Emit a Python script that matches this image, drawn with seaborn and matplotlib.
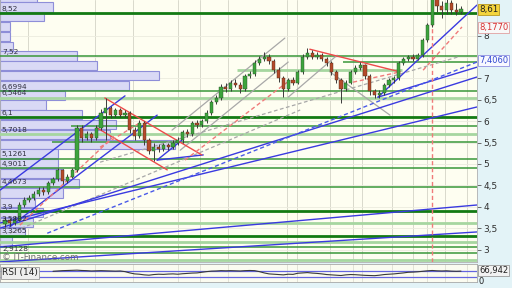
import matplotlib
matplotlib.use("Agg")
import matplotlib.pyplot as plt
import matplotlib.transforms as mtrans
import numpy as np
import pandas as pd
import seaborn as sns

sns.set_theme(style="white")
plt.rcParams["font.family"] = ["DejaVu Sans"]

# ---------------- data ----------------
opens = [3.60, 3.70, 3.62, 3.70, 4.05, 4.15, 4.20, 4.30, 4.40, 4.35, 4.55, 4.65, 4.85, 4.60, 4.70, 4.85,
         5.85, 5.60, 5.70, 5.60, 5.85, 6.20, 6.30, 6.15, 6.25, 6.15, 6.20, 5.80, 5.65, 5.95, 5.55, 5.30,
         5.40, 5.35, 5.45, 5.40, 5.50, 5.55, 5.75, 5.70, 5.95, 5.90, 6.00, 6.20, 6.45, 6.55, 6.80, 6.75,
         6.90, 6.85, 6.75, 7.05, 7.10, 7.35, 7.45, 7.50, 7.40, 7.20, 7.00, 6.75, 6.95, 6.90, 7.15, 7.50,
         7.60, 7.50, 7.55, 7.45, 7.35, 7.15, 6.95, 6.75, 6.90, 7.15, 7.25, 7.30, 7.05, 6.70, 6.60, 6.65,
         6.85, 6.95, 7.00, 7.35, 7.45, 7.50, 7.45, 7.55, 7.90, 8.25, 8.85, 8.70, 8.60, 8.75, 8.60, 8.55]
closes = [3.70, 3.62, 3.70, 4.05, 4.15, 4.20, 4.30, 4.40, 4.35, 4.55, 4.65, 4.85, 4.60, 4.70, 4.85, 5.85,
          5.60, 5.70, 5.60, 5.85, 6.20, 6.30, 6.15, 6.25, 6.15, 6.20, 5.80, 5.65, 5.95, 5.55, 5.30, 5.40,
          5.35, 5.45, 5.40, 5.50, 5.55, 5.75, 5.70, 5.95, 5.90, 6.00, 6.20, 6.45, 6.55, 6.80, 6.75, 6.90,
          6.85, 6.75, 7.05, 7.10, 7.35, 7.45, 7.50, 7.40, 7.20, 7.00, 6.75, 6.95, 6.90, 7.15, 7.50, 7.60,
          7.50, 7.55, 7.45, 7.35, 7.15, 6.95, 6.75, 6.90, 7.15, 7.25, 7.30, 7.05, 6.70, 6.60, 6.65, 6.85,
          6.95, 7.00, 7.35, 7.45, 7.50, 7.45, 7.55, 7.90, 8.25, 8.85, 8.70, 8.60, 8.75, 8.60, 8.55, 8.62]
highs = [3.76, 3.74, 3.78, 4.10, 4.22, 4.28, 4.36, 4.45, 4.46, 4.60, 4.70, 4.90, 4.88, 4.76, 4.90, 5.92,
         5.90, 5.78, 5.75, 5.90, 6.28, 6.55, 6.35, 6.30, 6.30, 6.26, 6.24, 5.86, 6.02, 6.00, 5.60, 5.48,
         5.46, 5.50, 5.50, 5.55, 5.62, 5.80, 5.82, 6.00, 6.02, 6.05, 6.26, 6.50, 6.62, 6.86, 6.88, 6.95,
         6.98, 6.92, 7.10, 7.18, 7.42, 7.52, 7.62, 7.56, 7.45, 7.26, 7.05, 7.00, 7.02, 7.20, 7.56, 7.72,
         7.66, 7.62, 7.60, 7.50, 7.40, 7.20, 7.00, 6.96, 7.20, 7.30, 7.38, 7.34, 7.10, 6.76, 6.72, 6.90,
         7.00, 7.06, 7.40, 7.50, 7.55, 7.56, 7.60, 7.95, 8.30, 8.95, 9.00, 8.80, 8.85, 8.82, 8.75, 8.70]
lows = [3.52, 3.55, 3.58, 3.66, 4.00, 4.10, 4.15, 4.25, 4.28, 4.30, 4.50, 4.60, 4.52, 4.55, 4.66, 4.80,
        5.52, 5.55, 5.52, 5.56, 5.80, 5.56, 6.08, 6.10, 6.10, 6.10, 5.72, 5.55, 5.60, 5.45, 5.22, 5.07,
        5.28, 5.30, 5.33, 5.36, 5.45, 5.50, 5.64, 5.66, 5.85, 5.86, 5.95, 6.15, 6.40, 6.50, 6.68, 6.70,
        6.80, 6.66, 6.70, 7.00, 7.05, 7.30, 7.40, 7.34, 7.12, 6.92, 6.56, 6.70, 6.84, 6.86, 7.10, 7.45,
        7.44, 7.45, 7.40, 7.28, 7.08, 6.88, 6.42, 6.70, 6.86, 7.10, 7.20, 6.98, 6.62, 6.54, 6.55, 6.60,
        6.80, 6.90, 6.96, 7.30, 7.40, 7.40, 7.42, 7.50, 7.85, 8.20, 8.55, 8.40, 8.50, 8.50, 8.48, 8.50]

# volume-at-price profile (bin centre price, bar length in candle units)
vp_price = [8.897, 8.668, 8.439, 8.210, 7.981, 7.752, 7.523, 7.294, 7.065, 6.836, 6.607, 6.378, 6.149,
            5.920, 5.691, 5.462, 5.234, 5.005, 4.776, 4.547, 4.318, 4.089, 3.860, 3.631, 3.402, 3.173]
vp_len = [7.7, 11.0, 9.2, 2.1, 2.1, 2.7, 16.0, 20.2, 33.1, 26.9, 13.5, 9.6, 17.1,
          24.2, 22.9, 36.5, 12.1, 12.1, 13.1, 16.5, 13.1, 7.3, 9.0, 6.9, 5.2, 2.5]

# horizontal support / resistance levels
lvl_price = [8.52, 7.52, 7.38, 7.19, 6.6994, 6.5464, 6.1, 5.885, 5.7018, 5.51, 5.1261, 4.9011,
             4.4673, 3.9, 3.62, 3.3265, 3.175, 3.06, 2.9128, 2.75]
lvl_kind = ["thick", "norm", "norm", "light", "norm", "light", "thick", "norm", "light", "norm", "norm",
            "norm", "norm", "thick", "light", "thick", "light", "norm", "norm", "light"]
lvl_start = [-2, -2, 70.4, 48.3, -2, -2, -2, 13.8, -2, 9.8, -2, -2, -2, -2, -2, -2, -2, -2, -2, -2]
lvl_end = [99, 99, 99, 82.7, 99, 99, 99, 99, 99, 99, 99, 99, 99, 99, 99, 99, 99, 99, 99, 99]
lvl_labels = ["8,52", "7,52", "6,6994", "6,5464", "6,1", "5,7018", "5,1261", "4,9011", "4,4673",
              "3,9", "3,5882", "3,3265", "2,9128"]
lvl_label_price = [8.52, 7.52, 6.6994, 6.5464, 6.1, 5.7018, 5.1261, 4.9011, 4.4673, 3.9, 3.62, 3.3265, 2.9128]

# trend lines: (x0, p0, x1, p1) in candle index / price
blue_lines = [(-1.0, 4.39, 25.0, 6.59), (1.0, 3.53, 31.7, 6.14), (31.7, 5.09, 36.9, 5.56),
              (31.7, 5.09, 41.3, 5.21), (-1.0, 3.50, 98.3, 7.03), (-1.0, 3.06, 98.3, 4.04),
              (-1.0, 2.71, 98.3, 3.41), (-1.0, 3.62, 98.3, 6.33), (77.7, 6.56, 98.3, 8.71),
              (77.7, 6.56, 98.3, 7.26)]
blue_dash = [(8.8, 3.38, 98.3, 7.38)]
gray_lines = [(34.8, 5.79, 58.3, 7.94), (36.5, 5.32, 59.0, 7.38), (59.0, 6.56, 69.2, 7.54),
              (67.7, 7.15, 80.2, 6.14)]
gray_dash = [(1.0, 3.38, 61.5, 6.26), (19.8, 5.04, 94.4, 7.50)]
red_lines = [(20.8, 6.54, 41.0, 5.21), (19.2, 5.84, 33.8, 4.86), (63.5, 7.68, 82.3, 7.15)]
red_dash = [(3.1, 3.57, 22.9, 5.67), (37.5, 5.09, 59.4, 6.96), (72.5, 6.91, 82.3, 7.15),
            (87.1, 7.19, 95.2, 8.20), (19.8, 5.39, 28.1, 5.96)]
red_vline = 88.96

vgrid_x = [4.8, 18.75, 26.7, 36.0, 40.6, 46.5, 58.75, 60.8, 67.7, 72.5, 74.4, 80.6, 85.0, 87.9, 91.7, 96.25]

ytick_vals = [3, 3.5, 4, 4.5, 5, 5.5, 6, 6.5, 7, 8]
last_price = 8.61
red_marker = 8.177
blue_marker = 7.406

rsi_start = 10
rsi_vals = [68, 70, 72, 73, 74, 75, 73, 72, 70, 71, 72, 71, 70, 69, 70, 66,
            58, 52, 50, 46, 44,
            48, 50, 49, 51, 52, 50, 53, 55, 57, 58, 62, 66,
            69, 70, 72, 71, 72, 71, 70, 72, 73, 72, 66, 58, 52,
            50, 48, 46, 50, 49, 56,
            58, 60, 57, 55, 52, 48,
            46, 44, 42, 46, 48, 47, 45,
            43, 42, 41, 44, 48, 50,
            52, 55, 58, 62, 63, 65, 68, 71,
            73, 71, 70, 71, 69, 68, 69]

# ---------------- figure ----------------
W, H = 512, 288
fig = plt.figure(figsize=(W / 100, H / 100), dpi=100, facecolor="#e3f3f7")
XMIN, XMAX = -1.04, 98.33
YMIN, YMAX = 2.708, 8.83

ax = fig.add_axes([0, 26 / H, 477 / W, 262 / H])
ax.set_facecolor("#fefef1")
ax.set_xlim(XMIN, XMAX)
ax.set_ylim(YMIN, YMAX)

# grid
for gx in vgrid_x:
    ax.axvline(gx, color="#d9d9cc", lw=0.7, zorder=0)
for gy in np.arange(3.0, 8.9, 0.5):
    ax.axhline(gy, color="#ececdf", lw=0.6, zorder=0)

# volume profile bars
ax.barh(vp_price, vp_len, left=XMIN, height=0.215, color="#d9d9f5", edgecolor="#8e8ed8",
        linewidth=0.8, zorder=1)

# levels
lvl_style = {"thick": dict(color="#137a13", lw=2.0), "norm": dict(color="#3a973a", lw=1.1),
             "light": dict(color="#a6d6a0", lw=2.0)}
for p, k, s, e in zip(lvl_price, lvl_kind, lvl_start, lvl_end):
    ax.plot([s, e], [p, p], zorder=3, solid_capstyle="butt", **lvl_style[k])

for p, t in zip(lvl_label_price, lvl_labels):
    ax.text(XMIN + 0.4, p + 0.03, t, fontsize=5.3, color="#303040", va="bottom", ha="left", zorder=6)

# trend lines
def draw(lines, **kw):
    for x0, y0, x1, y1 in lines:
        ax.plot([x0, x1], [y0, y1], zorder=4, **kw)

draw(gray_lines, color="#a8a8a8", lw=0.9)
draw(gray_dash, color="#a8a8a8", lw=0.9, ls=(0, (3, 2)))
draw(blue_lines, color="#3a3ae0", lw=1.0)
draw(blue_dash, color="#4a5ae8", lw=1.0, ls=(0, (3, 2)))
draw(red_lines, color="#ee4a4a", lw=1.0)
draw(red_dash, color="#f07a7a", lw=1.0, ls=(0, (3, 2)))
ax.axvline(red_vline, color="#f07a7a", lw=1.0, ls=(0, (3, 2)), zorder=4)

# candles
df = pd.DataFrame({"o": opens, "c": closes, "h": highs, "l": lows})
df["i"] = np.arange(len(df))
up = df["c"] >= df["o"]
ax.vlines(df["i"], df["l"], df["h"], color="#3a3a3a", lw=0.7, zorder=5)
body_lo = np.minimum(df["o"], df["c"])
body_h = np.maximum(np.abs(df["c"] - df["o"]), 0.02)
ax.bar(df["i"][up], body_h[up], bottom=body_lo[up], width=0.65, color="#3ca43c",
       edgecolor="#2a4a2a", linewidth=0.3, zorder=5)
ax.bar(df["i"][~up], body_h[~up], bottom=body_lo[~up], width=0.65, color="#b54a2a",
       edgecolor="#4a2a1a", linewidth=0.3, zorder=5)

# axes styling
ax.yaxis.tick_right()
ax.set_yticks(ytick_vals)
ax.set_yticklabels([("%g" % v).replace(".", ",") for v in ytick_vals])
ax.tick_params(axis="y", labelsize=6.5, length=3, width=0.6, color="#555555", pad=1.5,
               labelcolor="#303030")
ax.set_xticks([])
for s in ax.spines.values():
    s.set_color("#b0b0b0")
    s.set_linewidth(0.6)
ax.spines["top"].set_visible(False)

tr = mtrans.blended_transform_factory(ax.transAxes, ax.transData)
ax.text(1.004, last_price, "8,61", transform=tr, fontsize=6.3, va="center", ha="left", color="#202020",
        bbox=dict(boxstyle="square,pad=0.15", fc="#f4d43c", ec="#b89a20", lw=0.6), zorder=10)
ax.text(1.004, red_marker, "8,1770", transform=tr, fontsize=6.0, va="center", ha="left", color="#d83030",
        bbox=dict(boxstyle="square,pad=0.12", fc="#f8f8f8", ec="#e0a0a0", lw=0.6), zorder=10)
ax.text(1.004, blue_marker, "7,4060", transform=tr, fontsize=6.0, va="center", ha="left", color="#3048d0",
        bbox=dict(boxstyle="square,pad=0.12", fc="#f8f8ff", ec="#9090e0", lw=0.6), zorder=10)
ax.text(0.004, 0.016, "© IT-Finance.com", transform=ax.transAxes, fontsize=6.3, color="#707070",
        va="center", ha="left", zorder=6)

# ---------------- RSI panel ----------------
rx = fig.add_axes([0, 6 / H, 477 / W, 18 / H])
rx.set_facecolor("#fbfbf0")
rx.set_xlim(XMIN, XMAX)
rx.set_ylim(2, 113)
for gx in vgrid_x:
    rx.axvline(gx, color="#deded2", lw=0.6, zorder=0)
rx.axhline(70, color="#6464e0", lw=0.9)
rx.axhline(30, color="#6464e0", lw=0.9)
rsi_df = pd.DataFrame({"i": np.arange(rsi_start, rsi_start + len(rsi_vals)), "rsi": rsi_vals})
sns.lineplot(data=rsi_df, x="i", y="rsi", ax=rx, color="#383838", lw=0.8)
rx.set_xlabel("")
rx.set_ylabel("")
rx.set_xticks([])
rx.set_yticks([])
for s in rx.spines.values():
    s.set_color("#a8a8a8")
    s.set_linewidth(0.6)
rx.text(0.004, 0.5, "RSI (14)", transform=rx.transAxes, fontsize=6.5, va="center", ha="left",
        color="#202020", bbox=dict(boxstyle="square,pad=0.15", fc="#eeeeee", ec="#9a9a9a", lw=0.6))
rx.text(1.004, 0.62, "66,942", transform=rx.transAxes, fontsize=6.0, va="center", ha="left",
        color="#202020", bbox=dict(boxstyle="square,pad=0.12", fc="#f2f2f2", ec="#9a9a9a", lw=0.6))
rx.text(1.004, 0.05, "0", transform=rx.transAxes, fontsize=6, va="center", ha="left", color="#202020")

fig.savefig("out.png", dpi=100, facecolor=fig.get_facecolor())
